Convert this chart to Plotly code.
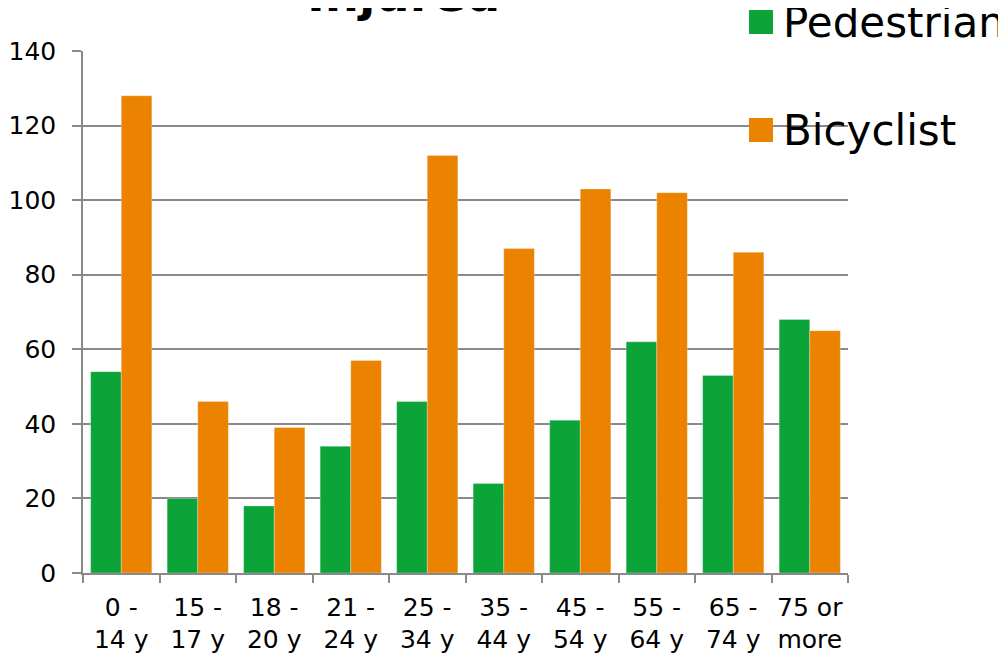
import plotly.graph_objects as go

categories = ["0 -<br>14 y", "15 -<br>17 y", "18 -<br>20 y", "21 -<br>24 y", "25 -<br>34 y",
              "35 -<br>44 y", "45 -<br>54 y", "55 -<br>64 y", "65 -<br>74 y", "75 or<br>more"]
pedestrian = [54, 20, 18, 34, 46, 24, 41, 62, 53, 68]
bicyclist = [128, 46, 39, 57, 112, 87, 103, 102, 86, 65]
series_names = ["Pedestrian", "Bicyclist"]
colors = ["#0ca339", "#eb8300"]
y_ticks = [0, 20, 40, 60, 80, 100, 120, 140]

OFF = 8  # page body margin
W, H = 1006 - OFF, 658 - OFF
L, R, T, B = 83, 848, 51, 573  # plot area in screenshot pixels
FONT = "DejaVu Sans"

def px(x):
    return (x - L) / (R - L)

def py(y):
    return (B - y) / (B - T)

fig = go.Figure()
for name, vals, col in zip(series_names, [pedestrian, bicyclist], colors):
    fig.add_trace(go.Bar(x=categories, y=vals, name=name,
                         marker=dict(color=col, line=dict(color="rgba(255,255,255,0.35)", width=0.8)),
                         showlegend=False))

shapes = []
annotations = []
# manual legend
for i, (name, col) in enumerate(zip(series_names, colors)):
    cy = 22 + i * 108
    shapes.append(dict(type="rect", xref="paper", yref="paper",
                       x0=px(749), x1=px(773), y0=py(cy - 12), y1=py(cy + 12),
                       fillcolor=col, line=dict(width=0), layer="above"))
    annotations.append(dict(text=name, xref="paper", yref="paper", x=px(781), y=py(cy + 1),
                            xanchor="left", yanchor="middle", showarrow=False,
                            font=dict(family=FONT, size=42, color="#000000")))
# title (partly cut off at top)
annotations.append(dict(text="<b>Injured</b>", xref="paper", yref="paper", x=px(403), y=py(-6),
                        xanchor="center", yanchor="middle", showarrow=False,
                        font=dict(family=FONT, size=48, color="#000000")))

fig.update_layout(
    width=W, height=H,
    margin=dict(l=L - OFF, r=W + OFF - R, t=T - OFF, b=H + OFF - B, pad=0),
    paper_bgcolor="white", plot_bgcolor="white",
    barmode="group", bargap=0.2, bargroupgap=0,
    font=dict(family=FONT, size=25, color="#000000"),
    shapes=shapes, annotations=annotations,
    xaxis=dict(showgrid=False, tickson="boundaries", ticks="outside", ticklen=8, automargin=False,
               tickcolor="#898989", tickwidth=1.5, showline=True, linecolor="#898989", linewidth=1.5,
               tickfont=dict(family=FONT, size=25), ticklabelstandoff=11, fixedrange=True),
    yaxis=dict(range=[0, 140], tickvals=y_ticks, showgrid=True, gridcolor="#898989", gridwidth=1.5,
               ticks="outside", ticklen=9, tickcolor="#898989", tickwidth=1.5, automargin=False,
               showline=True, linecolor="#898989", linewidth=1.5, zeroline=False,
               tickfont=dict(family=FONT, size=25), ticklabelstandoff=11, fixedrange=True),
)

fig.write_html("out.html")
